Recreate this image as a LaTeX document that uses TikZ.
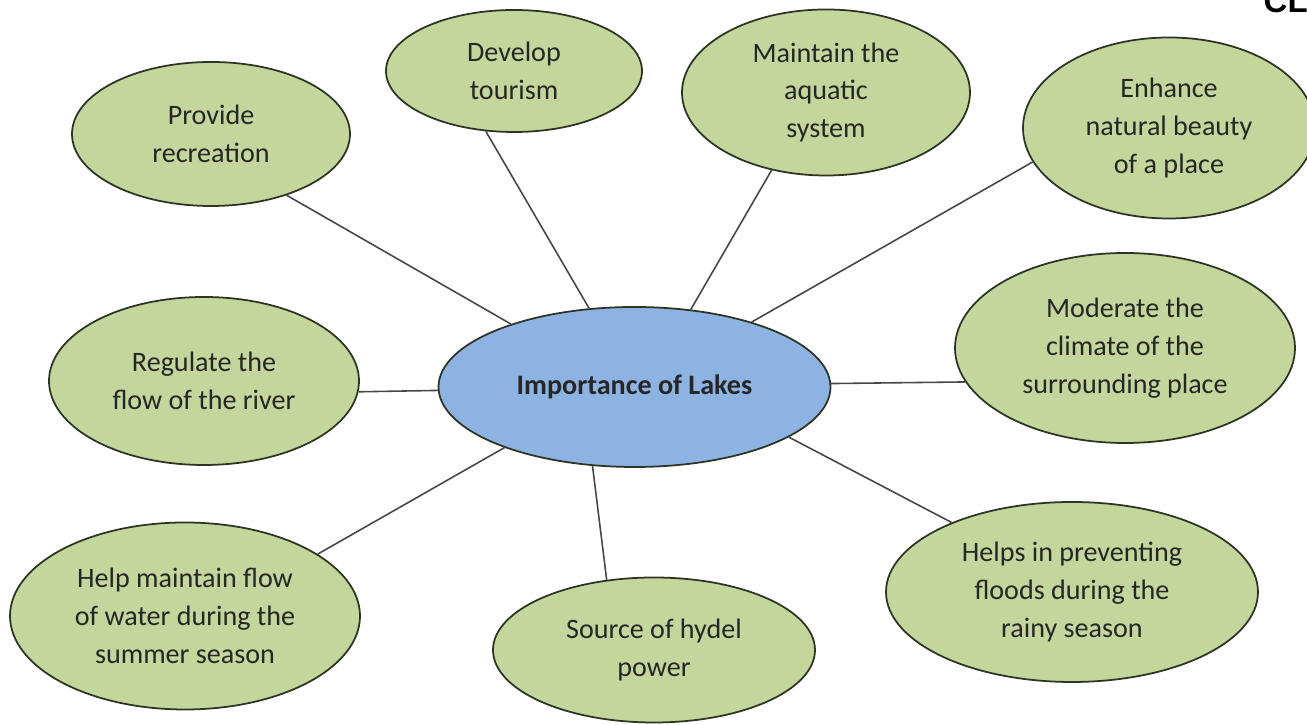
\documentclass[tikz,border=0pt]{standalone}
\usepackage{fontspec}
\setmainfont{Carlito}
\newfontfamily\headfont{Liberation Sans}
\definecolor{leafgreen}{RGB}{195, 214, 155}
\definecolor{lakeblue}{RGB}{141, 179, 226}
\definecolor{rimdark}{RGB}{45, 52, 35}
\definecolor{linkgray}{RGB}{70, 70, 70}
\usepackage{tikz}
\usetikzlibrary{shapes.geometric}

\begin{document}
\begin{tikzpicture}[
  idea/.style={ellipse, draw=rimdark, fill=leafgreen, line width=0.5pt, inner sep=0pt,
    align=center, text=black!85, font=\fontsize{8}{10.8}\selectfont},
  hub/.style={idea, fill=lakeblue, font=\bfseries\fontsize{8}{10.8}\selectfont},
  link/.style={draw=linkgray, line width=0.45pt}]
  % Frame
  \useasboundingbox (0, 0) rectangle (13.07, 7.25);
  \clip (0, 0) rectangle (13.07, 7.25);

  % Centre
  \node[hub, minimum width=3.92cm, minimum height=1.60cm] (lakes) at (6.345, 3.38) {Importance of Lakes};

  % Ideas round it
  \node[idea, minimum width=2.78cm, minimum height=1.44cm] (recr) at (2.11, 5.91) {Provide\\recreation};
  \node[idea, minimum width=2.56cm, minimum height=1.22cm] (tour) at (5.14, 6.54) {Develop\\tourism};
  \node[idea, minimum width=2.88cm, minimum height=1.66cm] (aqua) at (8.26, 6.325) {Maintain the\\aquatic\\system};
  \node[idea, minimum width=2.92cm, minimum height=1.81cm] (beauty) at (11.69, 5.97) {Enhance\\natural beauty\\of a place};
  \node[idea, minimum width=3.40cm, minimum height=1.90cm] (climate) at (11.25, 3.77) {Moderate the\\climate of the\\surrounding place};
  \node[idea, minimum width=3.10cm, minimum height=1.68cm] (river) at (2.04, 3.44) {Regulate the\\flow of the river};
  \node[idea, minimum width=3.50cm, minimum height=1.87cm] (summer) at (1.85, 1.09) {Help maintain flow\\of water during the\\summer season};
  \node[idea, minimum width=3.22cm, minimum height=1.45cm] (hydel) at (6.54, 0.75) {Source of hydel\\power};
  \node[idea, minimum width=3.72cm, minimum height=1.80cm] (floods) at (10.72, 1.33) {Helps in preventing\\floods during the\\rainy season};

  % Spokes
  \draw[link] (recr.-39) -- (lakes.153);
  \draw[link] (tour.-115) -- (lakes.120);
  \draw[link] (aqua.-125) -- (lakes.54);
  \draw[link] (beauty.-166) -- (lakes.29);
  \draw[link] (river.-4) -- (lakes.181);
  \draw[link] (lakes.1) -- (climate.192);
  \draw[link] (lakes.-18) -- (floods.150);
  \draw[link] (lakes.-118) -- (hydel.124);
  \draw[link] (lakes.-155) -- (summer.25);

  % Cut-off heading
  \node[anchor=base west, inner sep=0pt, font=\headfont\bfseries\fontsize{9.4}{11}\selectfont] (head) at (12.63, 7.12) {CLA};
\end{tikzpicture}
\end{document}
